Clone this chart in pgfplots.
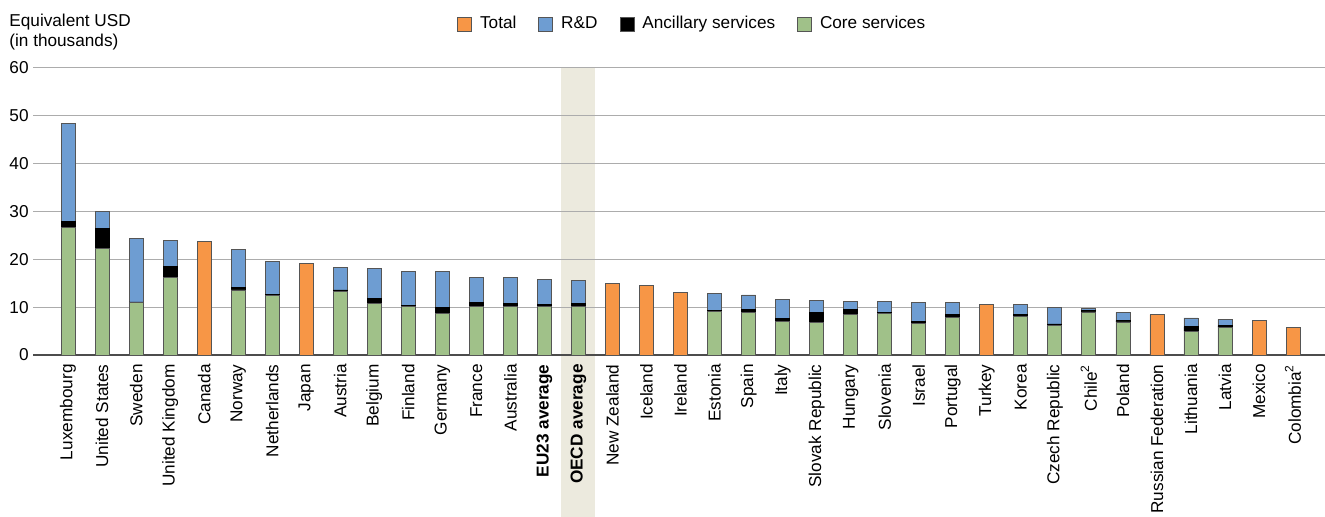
\documentclass[border=0pt]{standalone}
\usepackage{pgfplots}
\pgfplotsset{compat=1.18}
\usepackage{pgfplotstable}
\usepackage{fontspec}
\setmainfont{Liberation Sans}
\definecolor{cTotal}{RGB}{247,150,70}
\definecolor{cRD}{RGB}{110,157,210}
\definecolor{cCore}{RGB}{160,193,137}
\definecolor{cBand}{RGB}{236,234,222}
\definecolor{cEdge}{RGB}{85,85,85}
\newcommand\chartfont{\fontsize{8.6}{10}\selectfont}
\pgfplotsset{sqlegend/.style={legend image code/.code={\draw[##1,draw=cEdge,line width=0.4pt] (0pt,-3.5pt) rectangle (7pt,3.5pt);}}}
\pgfplotstableread{
x core anc rd total
0 26.7 1.2 20.6 0
1 22.3 4.2 3.6 0
2 11.0 0.1 13.3 0
3 16.3 2.2 5.4 0
4 0 0 0 23.7
5 13.6 0.5 7.9 0
6 12.5 0.1 6.9 0
7 0 0 0 19.1
8 13.2 0.4 4.75 0
9 10.7 1.2 6.2 0
10 10.1 0.3 7.05 0
11 8.7 1.3 7.4 0
12 10.1 0.9 5.2 0
13 10.1 0.6 5.5 0
14 10.1 0.5 5.25 0
15 10.1 0.7 4.7 0
16 0 0 0 14.9
17 0 0 0 14.45
18 0 0 0 13.1
19 9.1 0.3 3.45 0
20 8.9 0.6 3.05 0
21 7.1 0.6 3.9 0
22 6.8 2.1 2.5 0
23 8.4 1.2 1.6 0
24 8.6 0.3 2.3 0
25 6.6 0.4 4.0 0
26 7.9 0.5 2.6 0
27 0 0 0 10.5
28 8.0 0.4 2.1 0
29 6.1 0.4 3.5 0
30 9.0 0.3 0.5 0
31 6.9 0.3 1.7 0
32 0 0 0 8.45
33 4.95 0.95 1.85 0
34 5.8 0.3 1.35 0
35 0 0 0 7.25
36 0 0 0 5.7
}\data
\begin{document}
\begin{tikzpicture}
\path[use as bounding box] (0,0) rectangle (662.5pt,-258.5pt);
% highlight band behind the OECD average category (x = 14.5 .. 15.5)
\fill[cBand] (280.7pt,-34pt) rectangle (297.7pt,-258.5pt);
\node[anchor=base west, inner sep=0pt, font=\chartfont] at (4.5pt,-13.5pt) {Equivalent USD};
\node[anchor=base west, inner sep=0pt, font=\chartfont] at (4.5pt,-23.5pt) {(in thousands)};
\begin{axis}[
  at={(16.5pt,-177.5pt)}, anchor=south west,
  width=646pt, height=143.5pt, scale only axis,
  xmin=-1.03, xmax=36.94, ymin=0, ymax=60,
  ybar stacked, bar width=7pt,
  ytick={0,10,...,60},
  xtick={0,...,36},
  xticklabels={Luxembourg,United States,Sweden,United Kingdom,Canada,Norway,Netherlands,Japan,Austria,Belgium,Finland,Germany,France,Australia,{\bfseries EU23 average},{\bfseries OECD average},New Zealand,Iceland,Ireland,Estonia,Spain,Italy,Slovak Republic,Hungary,Slovenia,Israel,Portugal,Turkey,Korea,Czech Republic,Chile\textsuperscript{2},Poland,Russian Federation,Lithuania,Latvia,Mexico,Colombia\textsuperscript{2}},
  ymajorgrids, grid style={gray!65, line width=0.5pt},
  major tick length=0pt,
  axis line style={draw=none},
  extra y ticks={0}, extra y tick labels={},
  extra y tick style={grid style={black!70, line width=0.8pt}},
  xticklabel style={rotate=90, anchor=east, inner sep=0pt, font=\chartfont},
  xticklabel shift=4.5pt,
  yticklabel style={font=\chartfont, inner sep=0pt, anchor=east},
  yticklabel shift=2pt,
  /pgf/number format/assume math mode=true,
  clip=false,
  legend columns=4,
  legend style={at={(0.511,1.153)}, anchor=center, draw=none, fill=none,
    font=\chartfont, inner sep=0pt,
    /tikz/every odd column/.append style={column sep=2pt},
    /tikz/every even column/.append style={column sep=9pt}},
]
\addlegendimage{sqlegend, fill=cTotal}
\addlegendentry{Total}
\addlegendimage{sqlegend, fill=cRD}
\addlegendentry{R\&D}
\addlegendimage{sqlegend, fill=black}
\addlegendentry{Ancillary services}
\addlegendimage{sqlegend, fill=cCore}
\addlegendentry{Core services}
\addplot[forget plot, fill=cCore, draw=cEdge, line width=0.4pt] table[x=x,y=core] {\data};
\addplot[forget plot, fill=black, draw=black, line width=0.4pt] table[x=x,y=anc] {\data};
\addplot[forget plot, fill=cRD, draw=cEdge, line width=0.4pt] table[x=x,y=rd] {\data};
\addplot[forget plot, fill=cTotal, draw=cEdge, line width=0.4pt] table[x=x,y=total] {\data};
\end{axis}
\end{tikzpicture}
\end{document}
